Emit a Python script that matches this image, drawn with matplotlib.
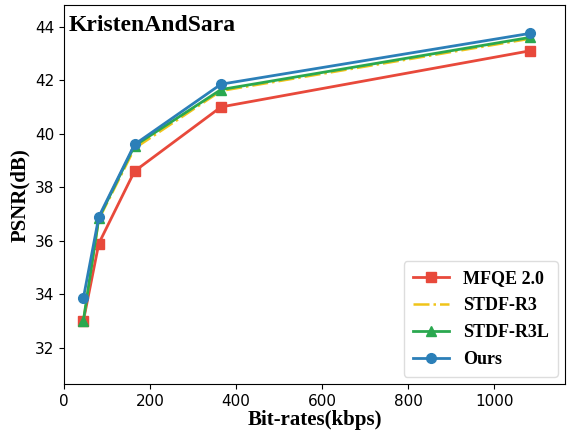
import matplotlib
matplotlib.use("Agg")
import matplotlib.pyplot as plt

bitrates = [45, 81, 164, 365, 1084]
mfqe = [33.0, 35.9, 38.6, 41.0, 43.1]
stdf_r3 = [33.0, 36.8, 39.45, 41.6, 43.55]
stdf_r3l = [33.0, 36.85, 39.55, 41.65, 43.6]
ours = [33.85, 36.9, 39.6, 41.85, 43.75]

fig = plt.figure(figsize=(5.71, 4.34), dpi=100)
ax = fig.add_axes([0.112, 0.115, 0.878, 0.873])

serif = "Liberation Serif"
ax.plot(bitrates, mfqe, color="#e8493b", marker="s", markersize=7, lw=2, label="MFQE 2.0")
ax.plot(bitrates, stdf_r3, color="#f0c419", ls="-.", lw=1.8, label="STDF-R3")
ax.plot(bitrates, stdf_r3l, color="#2aa84f", marker="^", markersize=7, lw=2, label="STDF-R3L")
ax.plot(bitrates, ours, color="#2b7fb8", marker="o", markersize=7, lw=2, label="Ours")

ax.set_xlim(0, 1165)
ax.set_ylim(30.65, 44.8)
ax.set_xticks([0, 200, 400, 600, 800, 1000])
ax.set_yticks([32, 34, 36, 38, 40, 42, 44])
ax.tick_params(labelsize=11)

ax.set_xlabel("Bit-rates(kbps)", fontfamily=serif, fontweight="bold", fontsize=15, labelpad=1)
ax.set_ylabel("PSNR(dB)", fontfamily=serif, fontweight="bold", fontsize=15, labelpad=3)
ax.text(0.01, 0.975, "KristenAndSara", transform=ax.transAxes, ha="left", va="top",
        fontfamily=serif, fontweight="bold", fontsize=17)

ax.legend(loc="lower right", prop={"family": serif, "weight": "bold", "size": 13},
          handlelength=2.0, borderpad=0.5, labelspacing=0.55, framealpha=1,
          edgecolor="#dddddd", borderaxespad=0.4)

fig.savefig("out.png", dpi=100)
